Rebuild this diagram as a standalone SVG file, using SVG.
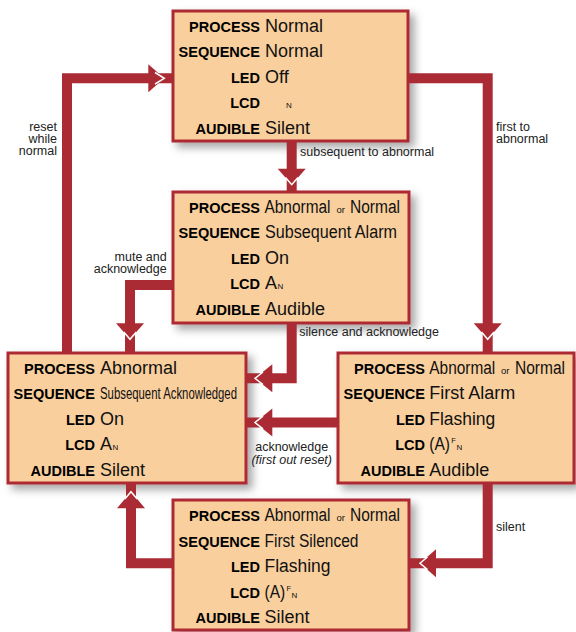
<svg xmlns="http://www.w3.org/2000/svg" width="576" height="632" viewBox="0 0 576 632">
<defs>
<filter id="sh" x="-10%" y="-10%" width="130%" height="130%">
<feDropShadow dx="5" dy="5" stdDeviation="4" flood-color="#000" flood-opacity="0.35"/>
</filter>
<style>
.box{fill:#f9cf9d;stroke:#ad2b35;stroke-width:3;filter:url(#sh)}
.lb{font-family:"Liberation Sans",Arial,sans-serif;font-weight:bold;font-size:14.5px;fill:#000;text-anchor:end}
.v{font-family:"Liberation Sans",Arial,sans-serif;font-size:18px;fill:#111}
.sm{font-size:8px}
.or{font-size:9.5px}
.cl{font-family:"Liberation Sans",Arial,sans-serif;font-size:12.5px;fill:#222}
.ln{fill:none;stroke:#ab2b34;stroke-width:10;stroke-linejoin:miter}
.hd{fill:#ab2b34}
.hw{fill:none;stroke:#fff;stroke-width:1.5}
</style>
</defs>
<g id="node-normal">
<rect class="box" x="173" y="11" width="235" height="130"/>
<text class="lb" x="260" y="31.5">PROCESS</text><text class="v" x="265" y="31.5">Normal</text>
<text class="lb" x="260" y="57">SEQUENCE</text><text class="v" x="265" y="57">Normal</text>
<text class="lb" x="260" y="82.5">LED</text><text class="v" x="265" y="82.5">Off</text>
<text class="lb" x="260" y="108">LCD</text><text class="v sm" x="286" y="108">N</text>
<text class="lb" x="260" y="133.5">AUDIBLE</text><text class="v" x="265" y="133.5">Silent</text>
</g>
<g id="node-subsequent-alarm">
<rect class="box" x="173" y="192" width="236" height="131"/>
<text class="lb" x="260" y="212.5">PROCESS</text><text class="v" x="264.5" y="212.5"><tspan textLength="66" lengthAdjust="spacingAndGlyphs">Abnormal</tspan><tspan class="or" x="336.5">or</tspan><tspan x="350" textLength="50" lengthAdjust="spacingAndGlyphs">Normal</tspan></text>
<text class="lb" x="260" y="238">SEQUENCE</text><text class="v" x="265" y="238" textLength="132" lengthAdjust="spacingAndGlyphs">Subsequent Alarm</text>
<text class="lb" x="260" y="263.5">LED</text><text class="v" x="265" y="263.5">On</text>
<text class="lb" x="260" y="289">LCD</text><text class="v" x="265" y="289">A<tspan class="sm" x="277.5">N</tspan></text>
<text class="lb" x="260" y="314.5">AUDIBLE</text><text class="v" x="265" y="314.5">Audible</text>
</g>
<g id="node-subsequent-ack">
<rect class="box" x="8" y="353" width="238" height="130"/>
<text class="lb" x="95" y="373.5">PROCESS</text><text class="v" x="100" y="373.5">Abnormal</text>
<text class="lb" x="95" y="399">SEQUENCE</text><text class="v" x="100" y="399" style="font-size:16px" textLength="137" lengthAdjust="spacingAndGlyphs">Subsequent Acknowledged</text>
<text class="lb" x="95" y="424.5">LED</text><text class="v" x="100" y="424.5">On</text>
<text class="lb" x="95" y="450">LCD</text><text class="v" x="100" y="450">A<tspan class="sm" x="112.5">N</tspan></text>
<text class="lb" x="95" y="475.5">AUDIBLE</text><text class="v" x="100" y="475.5">Silent</text>
</g>
<g id="node-first-alarm">
<rect class="box" x="338" y="353" width="236" height="130"/>
<text class="lb" x="425" y="373.5">PROCESS</text><text class="v" x="429.3" y="373.5"><tspan textLength="66" lengthAdjust="spacingAndGlyphs">Abnormal</tspan><tspan class="or" x="501">or</tspan><tspan x="515" textLength="50" lengthAdjust="spacingAndGlyphs">Normal</tspan></text>
<text class="lb" x="425" y="399">SEQUENCE</text><text class="v" x="429.3" y="399" textLength="86" lengthAdjust="spacingAndGlyphs">First Alarm</text>
<text class="lb" x="425" y="424.5">LED</text><text class="v" x="429.3" y="424.5" textLength="66" lengthAdjust="spacingAndGlyphs">Flashing</text>
<text class="lb" x="425" y="450">LCD</text><text class="v" x="429.3" y="450"><tspan textLength="20.7" lengthAdjust="spacingAndGlyphs">(A)</tspan><tspan class="sm" x="451.2" y="443" style="font-size:7.5px">F</tspan><tspan class="sm" x="456.4" y="450">N</tspan></text>
<text class="lb" x="425" y="475.5">AUDIBLE</text><text class="v" x="429.3" y="475.5">Audible</text>
</g>
<g id="node-first-silenced">
<rect class="box" x="173" y="500" width="236" height="130"/>
<text class="lb" x="260" y="521">PROCESS</text><text class="v" x="264.5" y="521"><tspan textLength="66" lengthAdjust="spacingAndGlyphs">Abnormal</tspan><tspan class="or" x="336.5">or</tspan><tspan x="350" textLength="50" lengthAdjust="spacingAndGlyphs">Normal</tspan></text>
<text class="lb" x="260" y="546.5">SEQUENCE</text><text class="v" x="264.5" y="546.5" textLength="94" lengthAdjust="spacingAndGlyphs">First Silenced</text>
<text class="lb" x="260" y="572">LED</text><text class="v" x="264.5" y="572" textLength="66" lengthAdjust="spacingAndGlyphs">Flashing</text>
<text class="lb" x="260" y="597.5">LCD</text><text class="v" x="264.5" y="597.5"><tspan textLength="20.7" lengthAdjust="spacingAndGlyphs">(A)</tspan><tspan class="sm" x="286.4" y="590.5" style="font-size:7.5px">F</tspan><tspan class="sm" x="291.6" y="597.5">N</tspan></text>
<text class="lb" x="260" y="623">AUDIBLE</text><text class="v" x="264.5" y="623">Silent</text>
</g>
<g id="connectors">
<path class="ln" d="M67,353 V78.3 H173"/>
<polygon class="hd" points="148.3,64.3 164.3,78.3 148.3,92.3"/><polyline class="hw" points="155,72.5 164.3,78.3 155,84"/>
<path class="ln" d="M408,78.3 H487.7 V353"/>
<polygon class="hd" points="473.7,323.3 487.7,339.3 501.7,323.3"/><polyline class="hw" points="481.5,332 487.7,339.3 494,332"/>
<path class="ln" d="M291.7,141 V192"/>
<polygon class="hd" points="277.7,168.7 291.7,184.7 305.7,168.7"/><polyline class="hw" points="285.5,177.5 291.7,184.7 298,177.5"/>
<path class="ln" d="M173,285 H130 V353"/>
<polygon class="hd" points="116,323.3 130,339.3 144,323.3"/><polyline class="hw" points="123.8,332 130,339.3 136.3,332"/>
<path class="ln" d="M291.7,323 V378.3 H246"/>
<polygon class="hd" points="272.3,364.3 255,378.3 272.3,392.3"/><polyline class="hw" points="263,372 255,378.3 263,384.6"/>
<path class="ln" d="M338,422.5 H246"/>
<polygon class="hd" points="272.3,408.5 255,422.5 272.3,436.5"/><polyline class="hw" points="263,416.2 255,422.5 263,428.8"/>
<path class="ln" d="M487.7,483 V563.3 H409"/>
<polygon class="hd" points="436,549.3 420,563.3 436,577.3"/><polyline class="hw" points="427.5,557 420,563.3 427.5,569.6"/>
<path class="ln" d="M173,563.3 H131 V483"/>
<polygon class="hd" points="117,508.3 131,491.7 145,508.3"/><polyline class="hw" points="124.8,499 131,491.7 137.2,499"/>
<text class="cl" x="57" y="130.7" text-anchor="end">reset</text>
<text class="cl" x="57" y="142.7" text-anchor="end">while</text>
<text class="cl" x="57" y="155" text-anchor="end">normal</text>
<text class="cl" x="496" y="131">first to</text>
<text class="cl" x="496" y="143">abnormal</text>
<text class="cl" x="300" y="156.3">subsequent to abnormal</text>
<text class="cl" x="166.7" y="260.7" text-anchor="end">mute and</text>
<text class="cl" x="166.7" y="272.5" text-anchor="end">acknowledge</text>
<text class="cl" x="299.3" y="336">silence and acknowledge</text>
<text class="cl" x="291.7" y="451" text-anchor="middle">acknowledge</text>
<text class="cl" x="291.7" y="464" text-anchor="middle" font-style="italic">(first out reset)</text>
<text class="cl" x="496" y="530.7">silent</text>
</g>
</svg>
